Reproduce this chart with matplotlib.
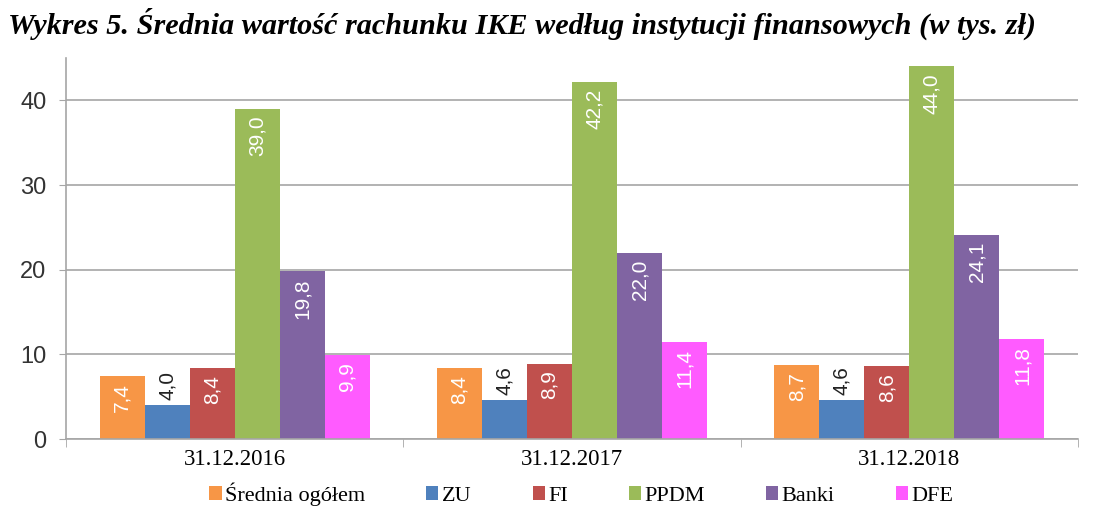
import numpy as np
import matplotlib.pyplot as plt

# dane
kategorie = ['31.12.2016', '31.12.2017', '31.12.2018']
serie = ['Średnia ogółem', 'ZU', 'FI', 'PPDM', 'Banki', 'DFE']
srednia = [7.4, 8.4, 8.7]
zu = [4.0, 4.6, 4.6]
fi = [8.4, 8.9, 8.6]
ppdm = [39.0, 42.2, 44.0]
banki = [19.8, 22.0, 24.1]
dfe = [9.9, 11.4, 11.8]
kolory = ['#F79646', '#4F81BD', '#C0504D', '#9BBB59', '#8064A2', '#FF5BFF']

plt.rcParams['font.family'] = ['Liberation Serif', 'DejaVu Serif']

fig = plt.figure(figsize=(10.93, 5.27), dpi=100)
ax = fig.add_axes([66 / 1093, 1 - 439 / 527, 1012 / 1093, 381 / 527])

wartosci = [srednia, zu, fi, ppdm, banki, dfe]
x = np.arange(len(kategorie))
w = 0.1335
for i, (nazwa, vals, c) in enumerate(zip(serie, wartosci, kolory)):
    pos = x - 2.5 * w + i * w
    bars = ax.bar(pos, vals, w, color=c, label=nazwa)
    for b, v in zip(bars, vals):
        txt = f'{v:.1f}'.replace('.', ',')
        if nazwa == 'ZU':
            ax.text(b.get_x() + w / 2, v + 0.6, txt, rotation=90, ha='center',
                    va='bottom', fontsize=15, color='#222222', family='Liberation Sans')
        else:
            ax.text(b.get_x() + w / 2, v - 0.8, txt, rotation=90, ha='center',
                    va='top', fontsize=15, color='white', family='Liberation Sans')

ax.set_xlim(-0.5, 2.5)
ax.set_ylim(0, 45)
ax.set_yticks([0, 10, 20, 30, 40])
ax.yaxis.grid(True, color='#a6a6a6', linewidth=1.2)
ax.set_axisbelow(True)
for s in ['top', 'right']:
    ax.spines[s].set_visible(False)
for s in ['left', 'bottom']:
    ax.spines[s].set_color('#a6a6a6')
    ax.spines[s].set_linewidth(1.2)
ax.tick_params(axis='y', labelsize=17, length=5, color='#a6a6a6', pad=9)
for t in ax.get_yticklabels():
    t.set_family('Liberation Sans')
    t.set_color('#333333')
ax.set_xticks(x)
ax.set_xticklabels(kategorie, fontsize=16.5)
ax.tick_params(axis='x', length=0, pad=7)
ax.set_xticks([-0.5, 0.5, 1.5, 2.5], minor=True)
ax.tick_params(axis='x', which='minor', length=6, color='#a6a6a6')

fig.text(8 / 1093, 1 - 24 / 527, 'Wykres 5. Średnia wartość rachunku IKE według instytucji finansowych (w tys. zł)',
         fontsize=21.8, fontweight='bold', fontstyle='italic', va='center', ha='left')

fig.legend(loc='center', bbox_to_anchor=(0.532, 1 - 494 / 527), ncol=6, frameon=False,
           fontsize=16, handlelength=0.55, handleheight=0.55, handletextpad=0.15,
           columnspacing=2.75)

fig.savefig('out.png', dpi=100)
